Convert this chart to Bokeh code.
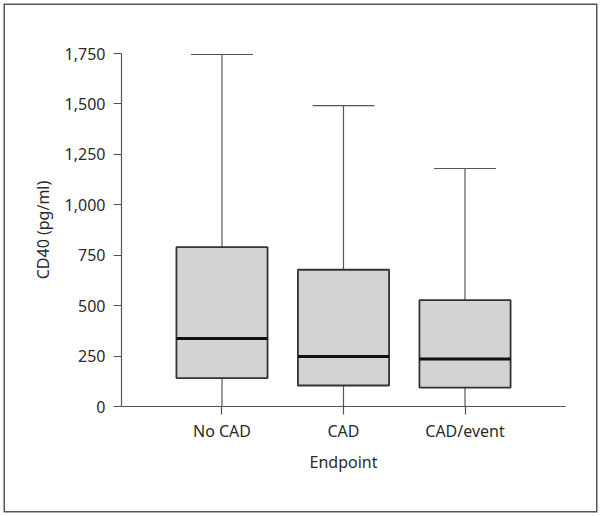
from bokeh.plotting import figure
from bokeh.models import Range1d, FixedTicker, ColumnDataSource, NumeralTickFormatter
from bokeh.transform import dodge
from bokeh.embed import file_html
from bokeh.resources import INLINE

categories = ["No CAD", "CAD", "CAD/event"]
positions = [1, 2, 3]
whisker_low = [0, 0, 0]
q1 = [141, 104, 94]
median = [337, 248, 235]
q3 = [790, 678, 527]
whisker_high = [1745, 1492, 1180]
y_ticks = [0, 250, 500, 750, 1000, 1250, 1500, 1750]

FONT = "Noto Sans"
TXT = "#2b2b2b"
AX = "#555555"

p = figure(frame_width=444, frame_height=353,
           min_border_left=116, min_border_right=31,
           min_border_top=48, min_border_bottom=105,
           x_range=Range1d(0.173, 3.827), y_range=Range1d(0, 1750),
           output_backend="svg", toolbar_location=None,
           margin=(5, 0, 0, 5),
           styles={"box-shadow": "0 0 0 1.5px #555555"})

p.outline_line_color = None
p.grid.grid_line_color = None
p.background_fill_color = "white"
p.border_fill_color = "white"

src = ColumnDataSource(dict(x=positions, lo=whisker_low, q1=q1, med=median,
                            q3=q3, hi=whisker_high))
bw = 0.75
cw = 0.51
p.segment(x0="x", y0="q3", x1="x", y1="hi", source=src, line_color=AX, line_width=1.2)
p.segment(x0="x", y0="lo", x1="x", y1="q1", source=src, line_color=AX, line_width=1.2)
p.segment(x0=dodge("x", -cw / 2), x1=dodge("x", cw / 2), y0="hi", y1="hi",
          source=src, line_color=AX, line_width=1.2)
p.vbar(x="x", bottom="q1", top="q3", width=bw, source=src, fill_color="#d3d3d5",
       line_color="#333333", line_width=1.8)
p.segment(x0=dodge("x", -bw / 2), x1=dodge("x", bw / 2), y0="med", y1="med",
          source=src, line_color="#111111", line_width=3)

for ax in (p.xaxis[0], p.yaxis[0]):
    ax.axis_line_color = AX
    ax.axis_line_width = 1.2
    ax.major_tick_line_color = AX
    ax.major_tick_line_width = 1.2
    ax.major_tick_in = 0
    ax.major_tick_out = 8
    ax.minor_tick_line_color = None
    ax.major_label_text_font = FONT
    ax.major_label_text_font_size = "16px"
    ax.major_label_text_color = TXT
    ax.axis_label_text_font = FONT
    ax.axis_label_text_font_size = "16px"
    ax.axis_label_text_font_style = "normal"
    ax.axis_label_text_color = TXT

p.xaxis.ticker = FixedTicker(ticks=positions)
p.xaxis.major_label_overrides = {pos: c for pos, c in zip(positions, categories)}
p.xaxis.axis_label = "Endpoint"
p.xaxis.major_label_standoff = 5
p.xaxis.axis_label_standoff = 6

p.yaxis.ticker = FixedTicker(ticks=y_ticks)
p.yaxis.formatter = NumeralTickFormatter(format="0,0")
p.yaxis.axis_label = "CD40 (pg/ml)"
p.yaxis.major_label_standoff = 8
p.yaxis.axis_label_standoff = 8

open("out.html", "w").write(file_html(p, INLINE))
